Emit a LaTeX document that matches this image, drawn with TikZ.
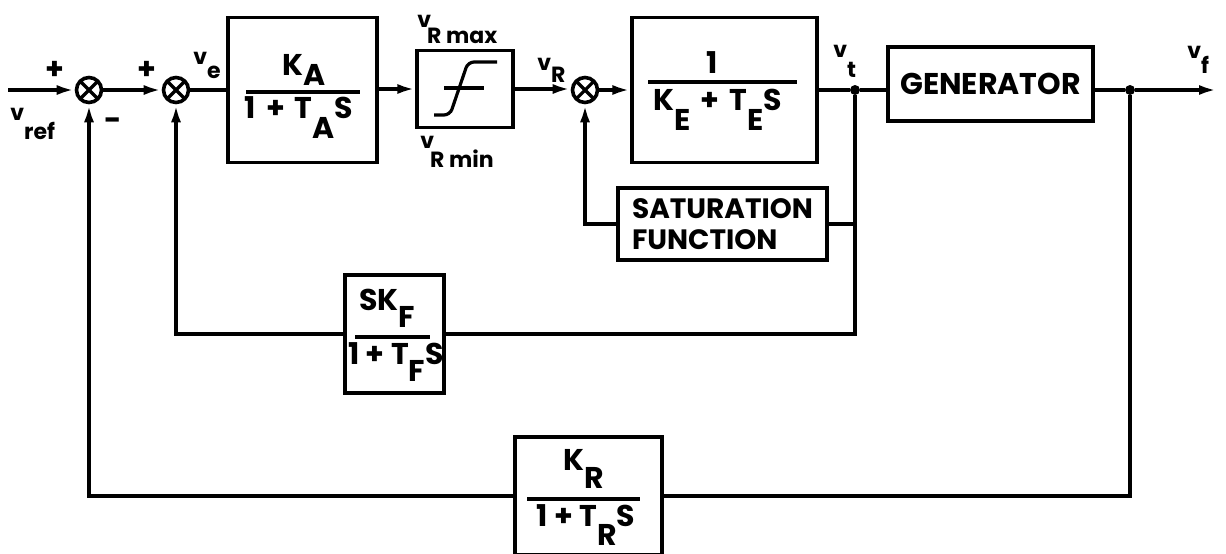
\documentclass[tikz,border=0pt]{standalone}
\usepackage{fontspec}
\setmainfont{Poppins}
\usetikzlibrary{arrows.meta,calc}
\newcommand\blkf{\fontsize{15}{17}\selectfont\bfseries}
\newcommand\satf{\fontsize{14}{15.5}\selectfont\bfseries}
\newcommand\lblf{\fontsize{11}{13}\selectfont\bfseries}
\newcommand\lo[2]{\raisebox{-#1}{#2}}
\newcommand\pl{\hspace{5pt}+\hspace{5pt}}
\begin{document}
\begin{tikzpicture}[x=0.5pt,y=-0.5pt,
  ln/.style={line width=1.8pt},
  arr/.style={line width=1.8pt,-{Latex[length=9pt,width=5pt]}},
  blk/.style={draw,line width=1.6pt,inner sep=0pt},
  sumj/.style={circle,draw,line width=1.8pt,minimum size=12.5pt,inner sep=0pt,
    path picture={\draw[line width=1.6pt]
      (path picture bounding box.north west) -- (path picture bounding box.south east)
      (path picture bounding box.north east) -- (path picture bounding box.south west);}},
  dot/.style={circle,fill,inner sep=0pt,minimum size=5pt},
  txt/.style={inner sep=0pt,font=\blkf},
  lbl/.style={inner sep=0pt,font=\lblf},
  bar/.style={line width=1.7pt}]
\useasboundingbox (0,0) rectangle (1226,553);
\clip (0,0) rectangle (1226,553);
\fill[white] (0,0) rectangle (1226,553);

% blocks
\node[sumj] (s1) at (89,90) {};
\node[sumj] (s2) at (176,90) {};
\node[blk,minimum width=74.5pt,minimum height=72.5pt] (ka) at (302.5,90) {};
\node[blk,minimum width=48pt,minimum height=38.5pt] (lim) at (465,89) {};
\node[sumj] (s3) at (585,90) {};
\node[blk,minimum width=92.5pt,minimum height=72.5pt] (ke) at (724.5,90) {};
\node[dot] (j1) at (855,90) {};
\node[blk,minimum width=102.5pt,minimum height=37pt,font=\blkf] (gen) at (990.5,84) {GENERATOR};
\node[dot] (j2) at (1130,90) {};
\coordinate (out) at (1217,90);
\coordinate (in) at (8,90);
\node[blk,minimum width=104.5pt,minimum height=36pt,align=left,font=\satf] (sat) at (722.5,224) {SATURATION\\FUNCTION};
\node[blk,minimum width=49.5pt,minimum height=59pt] (skf) at (394.5,334) {};
\node[blk,minimum width=73.5pt,minimum height=59pt] (kr) at (588.5,496) {};

% block contents
\node[txt,anchor=base] (kanum) at (304,75) {K\lo{5pt}{A}};
\draw[bar] (246,92) -- (360,92);
\node[txt,anchor=base] (kaden) at (299,118) {1\pl T\lo{10pt}{A}S};

\draw[line width=1.6pt,rounded corners=3pt] (434,115) -- (450,115) -- (468,62) -- (497,62);
\draw[line width=2pt] (444,88) -- (484,88);

\node[txt,anchor=base] (kenum) at (712,73) {1};
\draw[bar] (648,82) -- (797,82);
\node[txt,anchor=base] (keden) at (718,110) {K\lo{10pt}{E}\pl T\lo{10pt}{E}S};

\node[txt,anchor=base] (skfnum) at (387,310) {SK\lo{8.5pt}{F}};
\draw[bar] (355,337) -- (430,337);
\node[txt,anchor=base] (skfden) at (396,364) {1 + T\lo{8.5pt}{F}S};

\node[txt,anchor=base] (krnum) at (584,470) {K\lo{9pt}{R}};
\draw[bar] (527,499) -- (640,499);
\node[txt,anchor=base] (krden) at (586,526) {1 + T\lo{9.5pt}{R}S};

% signs and labels
\node[lbl,font=\blkf] (p1) at (55,70) {+};
\node[lbl,font=\blkf] (p2) at (147,70) {+};
\node[lbl,font=\blkf] (m1) at (113,124) {-};
\node[lbl,anchor=base west] (vref) at (10,120) {v\lo{9.5pt}{ref}};
\node[lbl,anchor=base west] (ve) at (193,64) {v\lo{7pt}{e}};
\node[lbl,anchor=base west] (vrmax) at (417,27) {v\hspace{-2pt}\lo{8pt}{R max}};
\node[lbl,anchor=base west] (vrmin) at (420,148) {v\hspace{-2pt}\lo{9.5pt}{R min}};
\node[lbl,anchor=base west] (vr) at (537,70) {v\lo{6pt}{R}};
\node[lbl,anchor=base west] (vt) at (833,57) {v\lo{10pt}{t}};
\node[lbl,anchor=base west] (vf) at (1187,58) {v\lo{7.5pt}{f}};

% connectors
\draw[arr] (in) -- (s1.west);
\draw[arr] (s1.east) -- (s2.west);
\draw[ln] (s2.east) -- (s2.east -| ka.west);
\draw[arr] (ka.east |- lim.west) -- (lim.west);
\draw[arr] (lim.east) -- (lim.east -| s3.west);
\draw[arr] (s3.east) -- (ke.west);
\draw[ln] (ke.east) -- (j1) -- (j1 -| gen.west);
\draw[ln] (j1 -| gen.east) -- (j2);
\draw[arr] (j2) -- (out);
\draw[ln] (j1) -- (j1 |- skf.east) -- (skf.east);
\draw[ln] (sat.east) -- (sat.east -| j1);
\draw[arr] (sat.west) -| (s3.south);
\draw[arr] (skf.west) -| (s2.south);
\draw[ln] (j2) |- (kr.east);
\draw[arr] (kr.west) -| (s1.south);
\end{tikzpicture}
\end{document}
